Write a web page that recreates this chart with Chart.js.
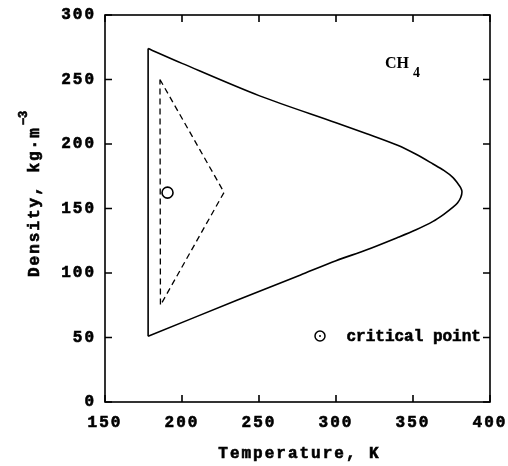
<!DOCTYPE html>
<html>
<head>
<meta charset="utf-8">
<script src="https://cdn.jsdelivr.net/npm/chart.js@4/dist/chart.umd.min.js"></script>
<style>
    html, body { margin: 0; padding: 0; background: #fff; }
</style>
</head>
<body>
<canvas id="chart" width="508" height="466"></canvas>
<script>
// Outer boundary: the vertical edge at the low-temperature side
const edgeT   = [178, 178];
const edgeRho = [51, 274];

// Outer boundary: curved part, upper branch -> nose -> lower branch
const curveT   = [178, 200, 250, 300, 320, 340, 352, 363, 370, 376, 379, 381, 381.8,
                  381, 379, 376, 370, 363, 352, 340, 320, 300, 277, 236, 178];
const curveRho = [274, 262.5, 237.5, 216.5, 208, 199, 192, 184.5, 179.5, 174, 169.5, 166, 163,
                  158.5, 154.5, 151, 145.5, 140, 133.5, 127.5, 118, 109.5, 98.5, 79, 51];

// Dashed triangle (closed)
const dashT   = [185.7, 227.3, 186, 185.7];
const dashRho = [250, 162.5, 75, 250];

// Critical point of methane
const criticalT   = [190.6];
const criticalRho = [162.3];

const xTicks = [150, 200, 250, 300, 350, 400];
const yTicks = [0, 50, 100, 150, 200, 250, 300];

const monoFont = "'Liberation Mono', 'Courier New', monospace";
const serifFont = "'Liberation Serif', 'Times New Roman', serif";

const toPoints = (xs, ys) => xs.map((x, i) => ({ x: x, y: ys[i] }));

// fill text and thicken it a little, the scan is heavier than a plain bold
function heavyText(ctx, text, x, y) {
    ctx.fillText(text, x, y);
    ctx.strokeText(text, x, y);
}

const framePlugin = {
    id: 'frame',
    beforeDraw(chart) {
        chart.ctx.letterSpacing = '2px';
    },
    afterDraw(chart) {
        const { ctx, chartArea: a, scales: { x, y } } = chart;
        ctx.save();

        // box and inward ticks on all four sides
        ctx.strokeStyle = '#000';
        ctx.lineWidth = 1.6;
        ctx.strokeRect(a.left, a.top, a.right - a.left, a.bottom - a.top);
        ctx.beginPath();
        xTicks.forEach(v => {
            const px = x.getPixelForValue(v);
            ctx.moveTo(px, a.bottom); ctx.lineTo(px, a.bottom - 7);
            ctx.moveTo(px, a.top);    ctx.lineTo(px, a.top + 7);
        });
        yTicks.forEach(v => {
            const py = y.getPixelForValue(v);
            ctx.moveTo(a.left, py);  ctx.lineTo(a.left + 7, py);
            ctx.moveTo(a.right, py); ctx.lineTo(a.right - 7, py);
        });
        ctx.stroke();

        ctx.fillStyle = '#000';
        ctx.lineWidth = 0.6;

        // x axis title
        ctx.letterSpacing = '2px';
        ctx.font = 'bold 16px ' + monoFont;
        ctx.textAlign = 'center';
        ctx.textBaseline = 'alphabetic';
        heavyText(ctx, 'Temperature, K', (a.left + a.right) / 2 + 2, 458);

        // y axis title with superscript
        ctx.save();
        ctx.translate(38.5, 277);
        ctx.rotate(-Math.PI / 2);
        ctx.textAlign = 'left';
        const main = 'Density, kg\u00b7m';
        heavyText(ctx, main, 0, 0);
        const w = ctx.measureText(main).width;
        ctx.font = 'bold 12px ' + monoFont;
        ctx.letterSpacing = '0px';
        heavyText(ctx, '\u22123', w + 1, -11.5);
        ctx.restore();

        // CH4 label
        ctx.letterSpacing = '0px';
        ctx.textAlign = 'left';
        ctx.font = 'bold 16px ' + serifFont;
        const cx = x.getPixelForValue(331.8);
        const cy = y.getPixelForValue(258.7);
        ctx.fillText('CH', cx, cy);
        const chW = ctx.measureText('CH').width;
        ctx.font = 'bold 14px ' + serifFont;
        ctx.fillText('4', cx + chW + 4, cy + 8.5);

        // legend for the critical point
        const lx = a.right - 143.5;
        const ly = a.bottom - 66;
        ctx.font = 'bold 16px ' + monoFont;
        ctx.textBaseline = 'middle';
        heavyText(ctx, 'critical point', lx, ly + 1);
        ctx.beginPath();
        ctx.arc(lx - 26.5, ly, 5, 0, Math.PI * 2);
        ctx.fillStyle = '#fff';
        ctx.fill();
        ctx.lineWidth = 1.5;
        ctx.stroke();
        ctx.beginPath();
        ctx.arc(lx - 26.5, ly, 1, 0, Math.PI * 2);
        ctx.fillStyle = '#000';
        ctx.fill();

        ctx.restore();
    }
};

const ctx = document.getElementById('chart').getContext('2d');

const tickFont = { family: monoFont, size: 16, weight: 'bold' };

new Chart(ctx, {
    type: 'scatter',
    data: {
        datasets: [
            {
                label: 'edge',
                data: toPoints(edgeT, edgeRho),
                showLine: true,
                borderColor: '#000',
                borderWidth: 1.6,
                pointRadius: 0,
                tension: 0
            },
            {
                label: 'boundary',
                data: toPoints(curveT, curveRho),
                showLine: true,
                borderColor: '#000',
                borderWidth: 1.6,
                pointRadius: 0,
                tension: 0.3
            },
            {
                label: 'dashed',
                data: toPoints(dashT, dashRho),
                showLine: true,
                borderColor: '#000',
                borderWidth: 1.3,
                borderDash: [6, 4],
                pointRadius: 0,
                tension: 0
            },
            {
                label: 'critical point',
                data: toPoints(criticalT, criticalRho),
                pointStyle: 'circle',
                pointRadius: 5.5,
                pointBorderWidth: 1.6,
                pointBorderColor: '#000',
                pointBackgroundColor: '#fff'
            },
            {
                label: 'critical point centre',
                data: toPoints(criticalT, criticalRho),
                pointStyle: 'circle',
                pointRadius: 1,
                pointBorderWidth: 0,
                pointBackgroundColor: '#000'
            }
        ]
    },
    options: {
        responsive: false,
        animation: false,
        layout: { padding: { top: 15, right: 18, left: 0, bottom: 0 } },
        plugins: {
            legend: { display: false },
            tooltip: { enabled: false }
        },
        scales: {
            x: {
                type: 'linear',
                min: 150,
                max: 400,
                grid: { display: false, drawTicks: false },
                border: { display: false },
                ticks: {
                    stepSize: 50,
                    color: '#000',
                    padding: 11,
                    maxRotation: 0,
                    textStrokeColor: '#000',
                    textStrokeWidth: 0.6,
                    font: tickFont
                },
                afterFit(scale) {
                    scale.height = 64;
                    scale.paddingLeft = 0;
                    scale.paddingRight = 0;
                }
            },
            y: {
                type: 'linear',
                min: 0,
                max: 300,
                grid: { display: false, drawTicks: false },
                border: { display: false },
                ticks: {
                    stepSize: 50,
                    color: '#000',
                    padding: 9,
                    textStrokeColor: '#000',
                    textStrokeWidth: 0.6,
                    font: tickFont
                },
                afterFit(scale) {
                    scale.width = 105;
                    scale.paddingTop = 0;
                    scale.paddingBottom = 0;
                }
            }
        }
    },
    plugins: [framePlugin]
});
</script>
</body>
</html>
